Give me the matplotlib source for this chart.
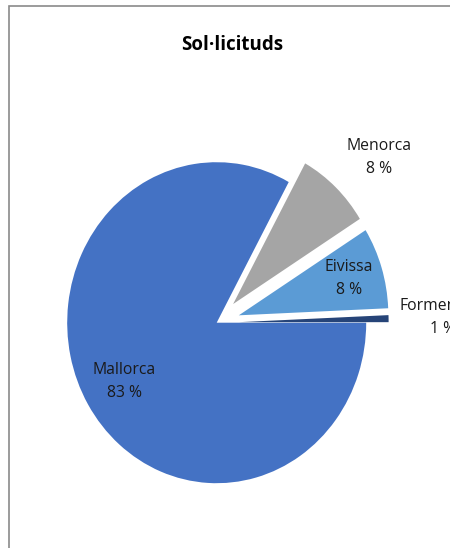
import numpy as np
import matplotlib.pyplot as plt
from matplotlib.patches import Rectangle

plt.rcParams['font.family'] = ['Open Sans', 'DejaVu Sans']

illes = ['Mallorca', 'Menorca', 'Eivissa', 'Formentera']
percentatges = [83.0, 8.1, 8.2, 0.7]
colors = ['#4472C4', '#A5A5A5', '#5B9BD5', '#264478']
explode = [0, 0.16, 0.155, 0.15]
label_dist = [0.72, 1.334, 0.77, 1.365]
label_turn = [0, -3.5, 0, 0]   # degrees, small nudges of the outside labels

W, H = 450, 548
fig = plt.figure(figsize=(W / 100, H / 100), dpi=100)
ax = fig.add_axes([0, 0, 1, 1])

wedges, _ = ax.pie(percentatges, colors=colors, explode=explode,
                   startangle=0, counterclock=False, radius=1)

# pie centre in pixels and the slightly stretched radii of the original
cx, cy, rx, ry = 216.7, 322.7, 149.5, 160.5
ax.set_aspect('auto')
ax.set_xlim(-cx / rx, (W - cx) / rx)
ax.set_ylim(-(H - cy) / ry, cy / ry)
ax.axis('off')

total = sum(percentatges)
for w, nom, v, d, t in zip(wedges, illes, percentatges, label_dist, label_turn):
    th = np.deg2rad((w.theta1 + w.theta2) / 2 + t)
    x0, y0 = w.center
    ax.text(x0 + d * np.cos(th), y0 + d * np.sin(th),
            f'{nom}\n{v / total * 100:.0f} %', ha='center', va='center',
            fontsize=11.3, color='#1a1a1a', linespacing=1.55, clip_on=False)

fig.text(231.7 / W, 1 - 45 / H, 'Sol·licituds', ha='center', va='center',
         fontsize=13.5, fontweight='bold', color='black')

fig.patches.append(Rectangle((9 / W, -0.1), 1.2, 1 - 6 / H + 0.1,
                             transform=fig.transFigure, fill=False,
                             edgecolor='#8a8a8a', linewidth=1.2))

fig.savefig('out.png', dpi=100)
